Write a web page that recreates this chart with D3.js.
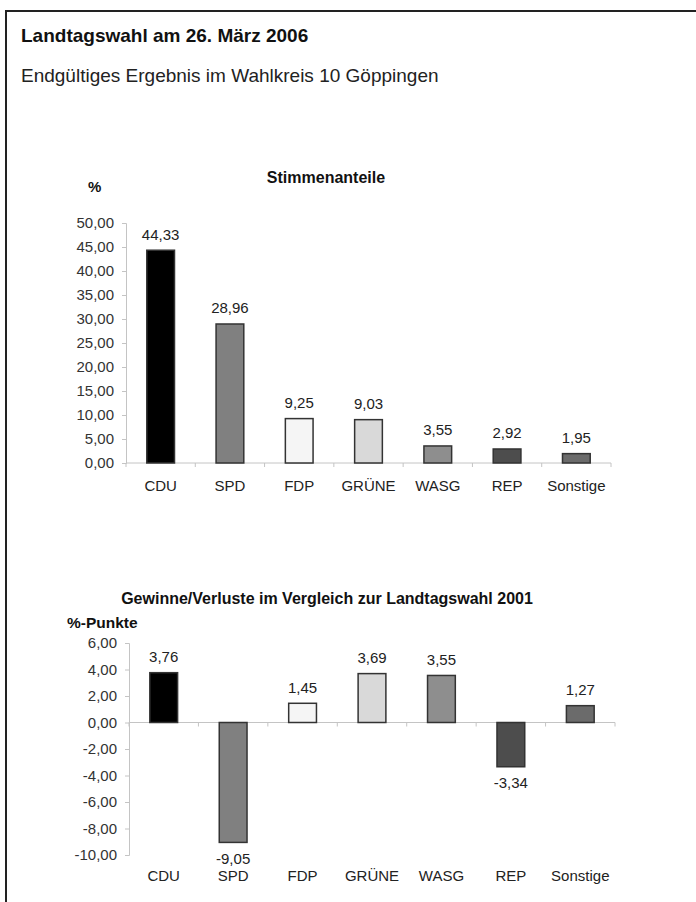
<!DOCTYPE html>
<html><head><meta charset="utf-8">
<script src="https://cdn.jsdelivr.net/npm/d3@7"></script>
<style>body{margin:0;background:#fff}svg{display:block}text{font-family:"Liberation Sans",Arial,sans-serif}</style>
</head><body>
<script>
const categories = ["CDU","SPD","FDP","GRÜNE","WASG","REP","Sonstige"];
const stimmenanteile = [44.33,28.96,9.25,9.03,3.55,2.92,1.95];
const gewinneVerluste = [3.76,-9.05,1.45,3.69,3.55,-3.34,1.27];
const barColors = ["#000000","#808080","#f5f5f5","#d9d9d9","#8e8e8e","#4d4d4d","#6b6b6b"];
const ticksTop = [0,5,10,15,20,25,30,35,40,45,50];
const ticksBottom = [-10,-8,-6,-4,-2,0,2,4,6];

const W=696,H=902;
const svg=d3.select("body").append("svg").attr("width",W).attr("height",H);
const fmt=v=>d3.format(".2f")(v).replace(".",",").replace("\u2212","-");

// frame
svg.append("line").attr("x1",5).attr("x2",W).attr("y1",11).attr("y2",11).attr("stroke","#222").attr("stroke-width",2);
svg.append("line").attr("x1",6).attr("x2",6).attr("y1",10).attr("y2",H).attr("stroke","#222").attr("stroke-width",2);

svg.append("text").attr("x",21).attr("y",42).attr("font-size",19).attr("font-weight","bold").attr("fill","#111").text("Landtagswahl am 26. März 2006");
svg.append("text").attr("x",21).attr("y",82).attr("font-size",19).attr("fill","#222").text("Endgültiges Ergebnis im Wahlkreis 10 Göppingen");

function chart(opt){
  const g=svg.append("g");
  const x=d3.scaleBand().domain(categories).range(opt.xr).paddingInner(0.6).paddingOuter(0.3);
  const y=d3.scaleLinear().domain(opt.dom).range(opt.yr);
  const ya=d3.axisLeft(y).tickValues(opt.ticks).tickFormat(fmt).tickSize(4).tickPadding(8);
  const yg=g.append("g").attr("transform",`translate(${opt.xr[0]},0)`).call(ya);
  yg.select(".domain").attr("stroke","#c4c4c4");
  yg.selectAll(".tick line").attr("stroke","#c4c4c4");
  yg.selectAll(".tick text").attr("font-size",15).attr("fill","#333").attr("font-family","Liberation Sans, Arial, sans-serif");
  const xg=g.append("g").attr("transform",`translate(0,${y(0)})`);
  xg.append("line").attr("x1",opt.xr[0]).attr("x2",opt.xr[1]).attr("stroke","#c4c4c4");
  const step=x.step();
  const starts=d3.range(categories.length+1).map(i=>opt.xr[0]+i*step);
  xg.selectAll("line.t").data(starts).join("line").attr("class","t").attr("x1",d=>d).attr("x2",d=>d).attr("y1",0).attr("y2",4).attr("stroke","#c4c4c4");
  g.selectAll("rect.bar").data(opt.values).join("rect").attr("class","bar")
    .attr("x",(d,i)=>x(categories[i])).attr("width",x.bandwidth())
    .attr("y",d=>y(Math.max(0,d))).attr("height",d=>Math.abs(y(d)-y(0)))
    .attr("fill",(d,i)=>barColors[i]).attr("stroke","#333").attr("stroke-width",1.5);
  g.selectAll("text.val").data(opt.values).join("text").attr("class","val")
    .attr("x",(d,i)=>x(categories[i])+x.bandwidth()/2)
    .attr("y",d=>d>=0?y(d)-10.5:y(d)+21.5)
    .attr("text-anchor","middle").attr("font-size",15).attr("fill","#222").text(fmt);
  g.selectAll("text.cat").data(categories).join("text").attr("class","cat")
    .attr("x",d=>x(d)+x.bandwidth()/2).attr("y",opt.catY)
    .attr("text-anchor","middle").attr("font-size",15).attr("fill","#222").text(d=>d);
  g.append("text").attr("x",opt.titleX).attr("y",opt.titleY).attr("text-anchor","middle").attr("font-size",16).attr("font-weight","bold").attr("fill","#111").text(opt.title);
  g.append("text").attr("x",opt.unitX).attr("y",opt.unitY).attr("font-size",opt.unitSize).attr("font-weight","bold").attr("fill","#111").text(opt.unit);
}

chart({values:stimmenanteile,dom:[0,50],yr:[463,223],xr:[126,611],ticks:ticksTop,catY:491,
  title:"Stimmenanteile",titleX:326,titleY:183,unit:"%",unitX:88,unitY:192,unitSize:15});
chart({values:gewinneVerluste,dom:[-10,6],yr:[855,643],xr:[129,615],ticks:ticksBottom,catY:881,
  title:"Gewinne/Verluste im Vergleich zur Landtagswahl 2001",titleX:327,titleY:604,unit:"%-Punkte",unitX:67,unitY:628,unitSize:15.5});
</script>
</body></html>
